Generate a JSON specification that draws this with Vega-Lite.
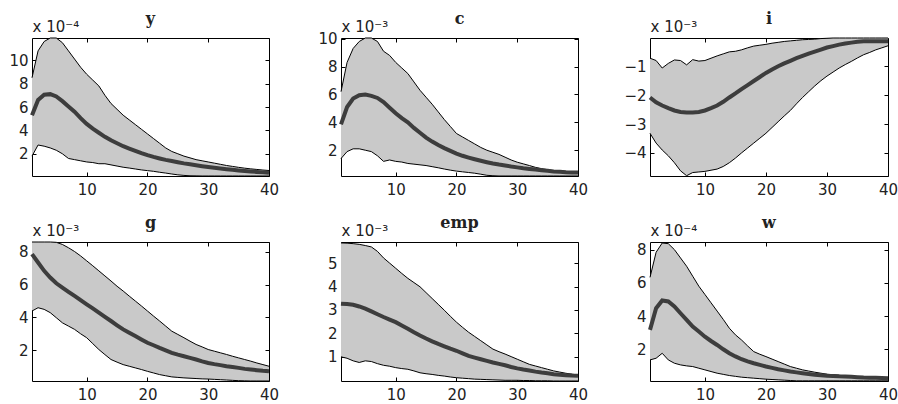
{
  "$schema": "https://vega.github.io/schema/vega-lite/v6.json",
  "background": "white",
  "padding": {"left": 8, "top": 10, "right": 4, "bottom": 0},
  "bounds": "flush",
  "columns": 3,
  "spacing": {"row": 66, "column": 72},
  "config": {
    "view": {"stroke": "black", "strokeWidth": 1},
    "axis": {"grid": false, "domain": false, "labelFont": "DejaVu Sans", "labelFontSize": 15, "labelColor": "#222222", "tickColor": "black", "tickSize": -4, "labelFlush": false, "title": null},
    "axisBottom": {"labelPadding": 10},
    "axisLeft": {"labelPadding": 8, "titleAngle": 0, "titleAlign": "left", "titleBaseline": "alphabetic", "titleX": 0, "titleY": -7, "titleFont": "DejaVu Sans", "titleFontSize": 15, "titleFontWeight": "normal", "titleColor": "#222222"},
    "title": {"font": "DejaVu Serif", "fontWeight": "bold", "fontSize": 16, "offset": -8, "color": "#222222", "anchor": "middle"},
    "line": {"clip": true},
    "area": {"clip": true}
  },
  "datasets": {
    "y": [
      {"t":1,"lo":1.8,"med":5.3,"hi":8.5},{"t":2,"lo":2.75,"med":6.6,"hi":10.8},{"t":3,"lo":2.65,"med":7.05,"hi":11.6},{"t":4,"lo":2.5,"med":7.1,"hi":11.9},{"t":5,"lo":2.3,"med":6.9,"hi":11.9},
      {"t":6,"lo":2.0,"med":6.5,"hi":11.5},{"t":7,"lo":1.6,"med":6.05,"hi":10.8},{"t":8,"lo":1.5,"med":5.6,"hi":10.1},{"t":9,"lo":1.4,"med":5.05,"hi":9.4},{"t":10,"lo":1.3,"med":4.55,"hi":8.8},
      {"t":11,"lo":1.25,"med":4.15,"hi":8.3},{"t":12,"lo":1.15,"med":3.8,"hi":7.8},{"t":13,"lo":1.15,"med":3.45,"hi":7.0},{"t":14,"lo":1.05,"med":3.15,"hi":6.3},{"t":15,"lo":0.95,"med":2.9,"hi":5.8},
      {"t":16,"lo":0.85,"med":2.65,"hi":5.3},{"t":17,"lo":0.78,"med":2.45,"hi":4.9},{"t":18,"lo":0.7,"med":2.25,"hi":4.5},{"t":19,"lo":0.62,"med":2.05,"hi":4.1},{"t":20,"lo":0.56,"med":1.88,"hi":3.7},
      {"t":21,"lo":0.5,"med":1.73,"hi":3.3},{"t":22,"lo":0.42,"med":1.6,"hi":2.9},{"t":23,"lo":0.35,"med":1.48,"hi":2.5},{"t":24,"lo":0.27,"med":1.38,"hi":2.2},{"t":25,"lo":0.2,"med":1.28,"hi":2.0},
      {"t":26,"lo":0.15,"med":1.18,"hi":1.8},{"t":27,"lo":0.12,"med":1.1,"hi":1.65},{"t":28,"lo":0.11,"med":1.02,"hi":1.5},{"t":29,"lo":0.1,"med":0.94,"hi":1.4},{"t":30,"lo":0.1,"med":0.87,"hi":1.3},
      {"t":31,"lo":0.1,"med":0.8,"hi":1.2},{"t":32,"lo":0.1,"med":0.74,"hi":1.1},{"t":33,"lo":0.1,"med":0.68,"hi":1.0},{"t":34,"lo":0.1,"med":0.63,"hi":0.92},{"t":35,"lo":0.1,"med":0.58,"hi":0.84},
      {"t":36,"lo":0.1,"med":0.53,"hi":0.77},{"t":37,"lo":0.1,"med":0.49,"hi":0.71},{"t":38,"lo":0.1,"med":0.45,"hi":0.66},{"t":39,"lo":0.1,"med":0.41,"hi":0.61},{"t":40,"lo":0.1,"med":0.38,"hi":0.57}
    ],
    "c": [
      {"t":1,"lo":1.4,"med":3.85,"hi":6.2},{"t":2,"lo":1.9,"med":5.1,"hi":8.3},{"t":3,"lo":2.1,"med":5.7,"hi":9.3},{"t":4,"lo":2.1,"med":5.95,"hi":9.8},{"t":5,"lo":2.0,"med":6.0,"hi":10.05},
      {"t":6,"lo":1.9,"med":5.9,"hi":10.05},{"t":7,"lo":1.6,"med":5.75,"hi":9.8},{"t":8,"lo":1.2,"med":5.45,"hi":9.1},{"t":9,"lo":1.3,"med":5.05,"hi":8.8},{"t":10,"lo":1.2,"med":4.65,"hi":8.3},
      {"t":11,"lo":1.15,"med":4.3,"hi":7.9},{"t":12,"lo":1.05,"med":4.0,"hi":7.5},{"t":13,"lo":1.0,"med":3.6,"hi":6.9},{"t":14,"lo":0.95,"med":3.25,"hi":6.3},{"t":15,"lo":0.9,"med":2.9,"hi":5.8},
      {"t":16,"lo":0.82,"med":2.62,"hi":5.3},{"t":17,"lo":0.74,"med":2.37,"hi":4.75},{"t":18,"lo":0.65,"med":2.15,"hi":4.2},{"t":19,"lo":0.57,"med":1.95,"hi":3.7},{"t":20,"lo":0.5,"med":1.76,"hi":3.2},
      {"t":21,"lo":0.45,"med":1.6,"hi":2.95},{"t":22,"lo":0.4,"med":1.47,"hi":2.7},{"t":23,"lo":0.35,"med":1.35,"hi":2.45},{"t":24,"lo":0.28,"med":1.24,"hi":2.2},{"t":25,"lo":0.2,"med":1.14,"hi":2.0},
      {"t":26,"lo":0.17,"med":1.05,"hi":1.85},{"t":27,"lo":0.15,"med":0.97,"hi":1.7},{"t":28,"lo":0.15,"med":0.9,"hi":1.5},{"t":29,"lo":0.15,"med":0.83,"hi":1.3},{"t":30,"lo":0.15,"med":0.77,"hi":1.14},
      {"t":31,"lo":0.15,"med":0.71,"hi":1.02},{"t":32,"lo":0.15,"med":0.66,"hi":0.9},{"t":33,"lo":0.15,"med":0.61,"hi":0.77},{"t":34,"lo":0.15,"med":0.56,"hi":0.68},{"t":35,"lo":0.15,"med":0.52,"hi":0.6},
      {"t":36,"lo":0.15,"med":0.48,"hi":0.53},{"t":37,"lo":0.15,"med":0.45,"hi":0.5},{"t":38,"lo":0.15,"med":0.42,"hi":0.48},{"t":39,"lo":0.15,"med":0.41,"hi":0.46},{"t":40,"lo":0.15,"med":0.4,"hi":0.45}
    ],
    "i": [
      {"t":1,"lo":-3.32,"med":-2.08,"hi":-0.72},{"t":2,"lo":-3.66,"med":-2.25,"hi":-0.8},{"t":3,"lo":-3.9,"med":-2.36,"hi":-1.06},{"t":4,"lo":-4.1,"med":-2.45,"hi":-0.9},{"t":5,"lo":-4.34,"med":-2.53,"hi":-0.78},
      {"t":6,"lo":-4.62,"med":-2.58,"hi":-0.8},{"t":7,"lo":-4.79,"med":-2.6,"hi":-0.95},{"t":8,"lo":-4.68,"med":-2.6,"hi":-0.77},{"t":9,"lo":-4.66,"med":-2.58,"hi":-0.82},{"t":10,"lo":-4.64,"med":-2.53,"hi":-0.8},
      {"t":11,"lo":-4.6,"med":-2.45,"hi":-0.72},{"t":12,"lo":-4.56,"med":-2.36,"hi":-0.64},{"t":13,"lo":-4.47,"med":-2.23,"hi":-0.57},{"t":14,"lo":-4.34,"med":-2.08,"hi":-0.5},{"t":15,"lo":-4.18,"med":-1.94,"hi":-0.48},
      {"t":16,"lo":-4.0,"med":-1.79,"hi":-0.43},{"t":17,"lo":-3.83,"med":-1.65,"hi":-0.36},{"t":18,"lo":-3.66,"med":-1.51,"hi":-0.3},{"t":19,"lo":-3.49,"med":-1.37,"hi":-0.27},{"t":20,"lo":-3.32,"med":-1.23,"hi":-0.24},
      {"t":21,"lo":-3.12,"med":-1.11,"hi":-0.2},{"t":22,"lo":-2.92,"med":-1.0,"hi":-0.17},{"t":23,"lo":-2.72,"med":-0.9,"hi":-0.14},{"t":24,"lo":-2.53,"med":-0.81,"hi":-0.12},{"t":25,"lo":-2.3,"med":-0.72,"hi":-0.1},
      {"t":26,"lo":-2.08,"med":-0.64,"hi":-0.08},{"t":27,"lo":-1.88,"med":-0.56,"hi":-0.07},{"t":28,"lo":-1.68,"med":-0.49,"hi":-0.06},{"t":29,"lo":-1.5,"med":-0.42,"hi":-0.04},{"t":30,"lo":-1.34,"med":-0.35,"hi":-0.03},
      {"t":31,"lo":-1.2,"med":-0.3,"hi":-0.02},{"t":32,"lo":-1.06,"med":-0.25,"hi":-0.02},{"t":33,"lo":-0.94,"med":-0.21,"hi":-0.02},{"t":34,"lo":-0.83,"med":-0.18,"hi":-0.02},{"t":35,"lo":-0.71,"med":-0.15,"hi":-0.02},
      {"t":36,"lo":-0.6,"med":-0.13,"hi":-0.02},{"t":37,"lo":-0.52,"med":-0.13,"hi":-0.02},{"t":38,"lo":-0.43,"med":-0.13,"hi":-0.02},{"t":39,"lo":-0.36,"med":-0.13,"hi":-0.02},{"t":40,"lo":-0.29,"med":-0.13,"hi":-0.02}
    ],
    "g": [
      {"t":1,"lo":4.39,"med":7.86,"hi":8.6},{"t":2,"lo":4.59,"med":7.35,"hi":8.6},{"t":3,"lo":4.49,"med":6.84,"hi":8.6},{"t":4,"lo":4.29,"med":6.43,"hi":8.6},{"t":5,"lo":3.98,"med":6.08,"hi":8.58},
      {"t":6,"lo":3.67,"med":5.82,"hi":8.45},{"t":7,"lo":3.47,"med":5.56,"hi":8.25},{"t":8,"lo":3.27,"med":5.31,"hi":8.02},{"t":9,"lo":3.0,"med":5.05,"hi":7.75},{"t":10,"lo":2.76,"med":4.8,"hi":7.45},
      {"t":11,"lo":2.4,"med":4.55,"hi":7.15},{"t":12,"lo":2.04,"med":4.29,"hi":6.84},{"t":13,"lo":1.73,"med":4.03,"hi":6.53},{"t":14,"lo":1.43,"med":3.78,"hi":6.22},{"t":15,"lo":1.27,"med":3.52,"hi":5.9},
      {"t":16,"lo":1.12,"med":3.27,"hi":5.61},{"t":17,"lo":1.02,"med":3.06,"hi":5.3},{"t":18,"lo":0.92,"med":2.86,"hi":5.0},{"t":19,"lo":0.82,"med":2.65,"hi":4.7},{"t":20,"lo":0.71,"med":2.45,"hi":4.39},
      {"t":21,"lo":0.61,"med":2.3,"hi":4.08},{"t":22,"lo":0.51,"med":2.14,"hi":3.78},{"t":23,"lo":0.44,"med":1.99,"hi":3.47},{"t":24,"lo":0.37,"med":1.84,"hi":3.16},{"t":25,"lo":0.34,"med":1.73,"hi":2.96},
      {"t":26,"lo":0.31,"med":1.63,"hi":2.76},{"t":27,"lo":0.29,"med":1.53,"hi":2.55},{"t":28,"lo":0.27,"med":1.43,"hi":2.35},{"t":29,"lo":0.25,"med":1.32,"hi":2.2},{"t":30,"lo":0.24,"med":1.22,"hi":2.04},
      {"t":31,"lo":0.22,"med":1.15,"hi":1.94},{"t":32,"lo":0.2,"med":1.09,"hi":1.84},{"t":33,"lo":0.18,"med":1.02,"hi":1.74},{"t":34,"lo":0.16,"med":0.97,"hi":1.63},{"t":35,"lo":0.14,"med":0.92,"hi":1.53},
      {"t":36,"lo":0.13,"med":0.86,"hi":1.43},{"t":37,"lo":0.12,"med":0.82,"hi":1.33},{"t":38,"lo":0.12,"med":0.78,"hi":1.22},{"t":39,"lo":0.12,"med":0.74,"hi":1.12},{"t":40,"lo":0.12,"med":0.71,"hi":1.02}
    ],
    "emp": [
      {"t":1,"lo":1.0,"med":3.27,"hi":5.86},{"t":2,"lo":0.94,"med":3.25,"hi":5.85},{"t":3,"lo":0.83,"med":3.22,"hi":5.83},{"t":4,"lo":0.76,"med":3.15,"hi":5.8},{"t":5,"lo":0.83,"med":3.06,"hi":5.75},
      {"t":6,"lo":0.8,"med":2.94,"hi":5.69},{"t":7,"lo":0.71,"med":2.82,"hi":5.5},{"t":8,"lo":0.64,"med":2.7,"hi":5.22},{"t":9,"lo":0.6,"med":2.59,"hi":5.0},{"t":10,"lo":0.54,"med":2.48,"hi":4.78},
      {"t":11,"lo":0.5,"med":2.34,"hi":4.56},{"t":12,"lo":0.47,"med":2.2,"hi":4.35},{"t":13,"lo":0.4,"med":2.05,"hi":4.17},{"t":14,"lo":0.32,"med":1.91,"hi":3.99},{"t":15,"lo":0.28,"med":1.78,"hi":3.74},
      {"t":16,"lo":0.25,"med":1.66,"hi":3.49},{"t":17,"lo":0.21,"med":1.55,"hi":3.24},{"t":18,"lo":0.18,"med":1.45,"hi":2.99},{"t":19,"lo":0.14,"med":1.35,"hi":2.73},{"t":20,"lo":0.11,"med":1.26,"hi":2.48},
      {"t":21,"lo":0.09,"med":1.15,"hi":2.26},{"t":22,"lo":0.07,"med":1.04,"hi":2.05},{"t":23,"lo":0.05,"med":0.97,"hi":1.87},{"t":24,"lo":0.04,"med":0.9,"hi":1.69},{"t":25,"lo":0.03,"med":0.83,"hi":1.51},
      {"t":26,"lo":0.02,"med":0.76,"hi":1.33},{"t":27,"lo":0.01,"med":0.7,"hi":1.22},{"t":28,"lo":0.0,"med":0.64,"hi":1.12},{"t":29,"lo":0.0,"med":0.57,"hi":1.01},{"t":30,"lo":0.0,"med":0.51,"hi":0.9},
      {"t":31,"lo":-0.01,"med":0.46,"hi":0.79},{"t":32,"lo":-0.01,"med":0.42,"hi":0.68},{"t":33,"lo":-0.02,"med":0.37,"hi":0.61},{"t":34,"lo":-0.02,"med":0.33,"hi":0.54},{"t":35,"lo":-0.02,"med":0.3,"hi":0.47},
      {"t":36,"lo":-0.03,"med":0.26,"hi":0.4},{"t":37,"lo":-0.03,"med":0.24,"hi":0.35},{"t":38,"lo":-0.03,"med":0.22,"hi":0.3},{"t":39,"lo":-0.03,"med":0.2,"hi":0.26},{"t":40,"lo":-0.03,"med":0.19,"hi":0.23}
    ],
    "w": [
      {"t":1,"lo":1.36,"med":3.17,"hi":6.33},{"t":2,"lo":1.46,"med":4.47,"hi":7.84},{"t":3,"lo":1.76,"med":4.94,"hi":8.4},{"t":4,"lo":1.36,"med":4.88,"hi":8.36},{"t":5,"lo":1.16,"med":4.58,"hi":8.0},
      {"t":6,"lo":1.06,"med":4.17,"hi":7.5},{"t":7,"lo":1.0,"med":3.77,"hi":7.0},{"t":8,"lo":0.96,"med":3.37,"hi":6.4},{"t":9,"lo":0.86,"med":3.07,"hi":5.8},{"t":10,"lo":0.76,"med":2.76,"hi":5.3},
      {"t":11,"lo":0.66,"med":2.5,"hi":4.8},{"t":12,"lo":0.56,"med":2.26,"hi":4.3},{"t":13,"lo":0.49,"med":2.0,"hi":3.8},{"t":14,"lo":0.42,"med":1.76,"hi":3.27},{"t":15,"lo":0.37,"med":1.57,"hi":2.87},
      {"t":16,"lo":0.32,"med":1.4,"hi":2.56},{"t":17,"lo":0.29,"med":1.27,"hi":2.2},{"t":18,"lo":0.26,"med":1.16,"hi":1.86},{"t":19,"lo":0.23,"med":1.06,"hi":1.7},{"t":20,"lo":0.2,"med":0.96,"hi":1.56},
      {"t":21,"lo":0.18,"med":0.88,"hi":1.41},{"t":22,"lo":0.16,"med":0.8,"hi":1.26},{"t":23,"lo":0.14,"med":0.73,"hi":1.11},{"t":24,"lo":0.12,"med":0.66,"hi":0.96},{"t":25,"lo":0.1,"med":0.61,"hi":0.86},
      {"t":26,"lo":0.1,"med":0.56,"hi":0.76},{"t":27,"lo":0.1,"med":0.51,"hi":0.69},{"t":28,"lo":0.1,"med":0.46,"hi":0.62},{"t":29,"lo":0.1,"med":0.43,"hi":0.56},{"t":30,"lo":0.1,"med":0.4,"hi":0.5},
      {"t":31,"lo":0.1,"med":0.39,"hi":0.47},{"t":32,"lo":0.1,"med":0.37,"hi":0.43},{"t":33,"lo":0.1,"med":0.36,"hi":0.4},{"t":34,"lo":0.1,"med":0.34,"hi":0.37},{"t":35,"lo":0.1,"med":0.32,"hi":0.35},
      {"t":36,"lo":0.1,"med":0.3,"hi":0.32},{"t":37,"lo":0.1,"med":0.29,"hi":0.3},{"t":38,"lo":0.1,"med":0.28,"hi":0.29},{"t":39,"lo":0.1,"med":0.27,"hi":0.28},{"t":40,"lo":0.1,"med":0.26,"hi":0.27}
    ]
  },
  "concat": [
    {
      "title": "y", "width": 237, "height": 138, "data": {"name": "y"},
      "resolve": {"axis": {"x": "independent", "y": "independent"}},
      "layer": [
        {"mark": {"type": "area", "color": "#c9c9c9", "opacity": 1},
         "encoding": {"x": {"field": "t", "type": "quantitative", "scale": {"domain": [1, 40], "nice": false}, "axis": {"values": [10, 20, 30, 40]}},
                      "y": {"field": "lo", "type": "quantitative", "scale": {"domain": [0.1, 11.9], "nice": false, "zero": false}, "axis": {"values": [2, 4, 6, 8, 10], "title": "x 10⁻⁴"}},
                      "y2": {"field": "hi"}}},
        {"mark": {"type": "line", "color": "black", "strokeWidth": 1}, "encoding": {"x": {"field": "t", "type": "quantitative", "axis": null}, "y": {"field": "hi", "type": "quantitative", "axis": null}}},
        {"mark": {"type": "line", "color": "black", "strokeWidth": 1}, "encoding": {"x": {"field": "t", "type": "quantitative", "axis": null}, "y": {"field": "lo", "type": "quantitative", "axis": null}}},
        {"mark": {"type": "line", "color": "#3d3d3d", "strokeWidth": 4}, "encoding": {"x": {"field": "t", "type": "quantitative", "axis": {"orient": "top", "labels": false, "values": [10, 20, 30, 40], "title": null}}, "y": {"field": "med", "type": "quantitative", "axis": {"orient": "right", "labels": false, "values": [2, 4, 6, 8, 10], "title": null}}}}
      ]
    },
    {
      "title": "c", "width": 237, "height": 138, "data": {"name": "c"},
      "resolve": {"axis": {"x": "independent", "y": "independent"}},
      "layer": [
        {"mark": {"type": "area", "color": "#c9c9c9", "opacity": 1},
         "encoding": {"x": {"field": "t", "type": "quantitative", "scale": {"domain": [1, 40], "nice": false}, "axis": {"values": [10, 20, 30, 40]}},
                      "y": {"field": "lo", "type": "quantitative", "scale": {"domain": [0.15, 10.05], "nice": false, "zero": false}, "axis": {"values": [2, 4, 6, 8, 10], "title": "x 10⁻³"}},
                      "y2": {"field": "hi"}}},
        {"mark": {"type": "line", "color": "black", "strokeWidth": 1}, "encoding": {"x": {"field": "t", "type": "quantitative", "axis": null}, "y": {"field": "hi", "type": "quantitative", "axis": null}}},
        {"mark": {"type": "line", "color": "black", "strokeWidth": 1}, "encoding": {"x": {"field": "t", "type": "quantitative", "axis": null}, "y": {"field": "lo", "type": "quantitative", "axis": null}}},
        {"mark": {"type": "line", "color": "#3d3d3d", "strokeWidth": 4}, "encoding": {"x": {"field": "t", "type": "quantitative", "axis": {"orient": "top", "labels": false, "values": [10, 20, 30, 40], "title": null}}, "y": {"field": "med", "type": "quantitative", "axis": {"orient": "right", "labels": false, "values": [2, 4, 6, 8, 10], "title": null}}}}
      ]
    },
    {
      "title": "i", "width": 238, "height": 138, "data": {"name": "i"},
      "resolve": {"axis": {"x": "independent", "y": "independent"}},
      "layer": [
        {"mark": {"type": "area", "color": "#c9c9c9", "opacity": 1},
         "encoding": {"x": {"field": "t", "type": "quantitative", "scale": {"domain": [1, 40], "nice": false}, "axis": {"values": [10, 20, 30, 40]}},
                      "y": {"field": "lo", "type": "quantitative", "scale": {"domain": [-4.8, -0.02], "nice": false, "zero": false}, "axis": {"values": [-4, -3, -2, -1], "title": "x 10⁻³"}},
                      "y2": {"field": "hi"}}},
        {"mark": {"type": "line", "color": "black", "strokeWidth": 1}, "encoding": {"x": {"field": "t", "type": "quantitative", "axis": null}, "y": {"field": "hi", "type": "quantitative", "axis": null}}},
        {"mark": {"type": "line", "color": "black", "strokeWidth": 1}, "encoding": {"x": {"field": "t", "type": "quantitative", "axis": null}, "y": {"field": "lo", "type": "quantitative", "axis": null}}},
        {"mark": {"type": "line", "color": "#3d3d3d", "strokeWidth": 4}, "encoding": {"x": {"field": "t", "type": "quantitative", "axis": {"orient": "top", "labels": false, "values": [10, 20, 30, 40], "title": null}}, "y": {"field": "med", "type": "quantitative", "axis": {"orient": "right", "labels": false, "values": [-4, -3, -2, -1], "title": null}}}}
      ]
    },
    {
      "title": "g", "width": 237, "height": 139, "data": {"name": "g"},
      "resolve": {"axis": {"x": "independent", "y": "independent"}},
      "layer": [
        {"mark": {"type": "area", "color": "#c9c9c9", "opacity": 1},
         "encoding": {"x": {"field": "t", "type": "quantitative", "scale": {"domain": [1, 40], "nice": false}, "axis": {"values": [10, 20, 30, 40]}},
                      "y": {"field": "lo", "type": "quantitative", "scale": {"domain": [0.12, 8.6], "nice": false, "zero": false}, "axis": {"values": [2, 4, 6, 8], "title": "x 10⁻³"}},
                      "y2": {"field": "hi"}}},
        {"mark": {"type": "line", "color": "black", "strokeWidth": 1}, "encoding": {"x": {"field": "t", "type": "quantitative", "axis": null}, "y": {"field": "hi", "type": "quantitative", "axis": null}}},
        {"mark": {"type": "line", "color": "black", "strokeWidth": 1}, "encoding": {"x": {"field": "t", "type": "quantitative", "axis": null}, "y": {"field": "lo", "type": "quantitative", "axis": null}}},
        {"mark": {"type": "line", "color": "#3d3d3d", "strokeWidth": 4}, "encoding": {"x": {"field": "t", "type": "quantitative", "axis": {"orient": "top", "labels": false, "values": [10, 20, 30, 40], "title": null}}, "y": {"field": "med", "type": "quantitative", "axis": {"orient": "right", "labels": false, "values": [2, 4, 6, 8], "title": null}}}}
      ]
    },
    {
      "title": "emp", "width": 237, "height": 139, "data": {"name": "emp"},
      "resolve": {"axis": {"x": "independent", "y": "independent"}},
      "layer": [
        {"mark": {"type": "area", "color": "#c9c9c9", "opacity": 1},
         "encoding": {"x": {"field": "t", "type": "quantitative", "scale": {"domain": [1, 40], "nice": false}, "axis": {"values": [10, 20, 30, 40]}},
                      "y": {"field": "lo", "type": "quantitative", "scale": {"domain": [-0.03, 5.9], "nice": false, "zero": false}, "axis": {"values": [1, 2, 3, 4, 5], "title": "x 10⁻³"}},
                      "y2": {"field": "hi"}}},
        {"mark": {"type": "line", "color": "black", "strokeWidth": 1}, "encoding": {"x": {"field": "t", "type": "quantitative", "axis": null}, "y": {"field": "hi", "type": "quantitative", "axis": null}}},
        {"mark": {"type": "line", "color": "black", "strokeWidth": 1}, "encoding": {"x": {"field": "t", "type": "quantitative", "axis": null}, "y": {"field": "lo", "type": "quantitative", "axis": null}}},
        {"mark": {"type": "line", "color": "#3d3d3d", "strokeWidth": 4}, "encoding": {"x": {"field": "t", "type": "quantitative", "axis": {"orient": "top", "labels": false, "values": [10, 20, 30, 40], "title": null}}, "y": {"field": "med", "type": "quantitative", "axis": {"orient": "right", "labels": false, "values": [1, 2, 3, 4, 5], "title": null}}}}
      ]
    },
    {
      "title": "w", "width": 238, "height": 139, "data": {"name": "w"},
      "resolve": {"axis": {"x": "independent", "y": "independent"}},
      "layer": [
        {"mark": {"type": "area", "color": "#c9c9c9", "opacity": 1},
         "encoding": {"x": {"field": "t", "type": "quantitative", "scale": {"domain": [1, 40], "nice": false}, "axis": {"values": [10, 20, 30, 40]}},
                      "y": {"field": "lo", "type": "quantitative", "scale": {"domain": [0.09, 8.46], "nice": false, "zero": false}, "axis": {"values": [2, 4, 6, 8], "title": "x 10⁻⁴"}},
                      "y2": {"field": "hi"}}},
        {"mark": {"type": "line", "color": "black", "strokeWidth": 1}, "encoding": {"x": {"field": "t", "type": "quantitative", "axis": null}, "y": {"field": "hi", "type": "quantitative", "axis": null}}},
        {"mark": {"type": "line", "color": "black", "strokeWidth": 1}, "encoding": {"x": {"field": "t", "type": "quantitative", "axis": null}, "y": {"field": "lo", "type": "quantitative", "axis": null}}},
        {"mark": {"type": "line", "color": "#3d3d3d", "strokeWidth": 4}, "encoding": {"x": {"field": "t", "type": "quantitative", "axis": {"orient": "top", "labels": false, "values": [10, 20, 30, 40], "title": null}}, "y": {"field": "med", "type": "quantitative", "axis": {"orient": "right", "labels": false, "values": [2, 4, 6, 8], "title": null}}}}
      ]
    }
  ]
}
